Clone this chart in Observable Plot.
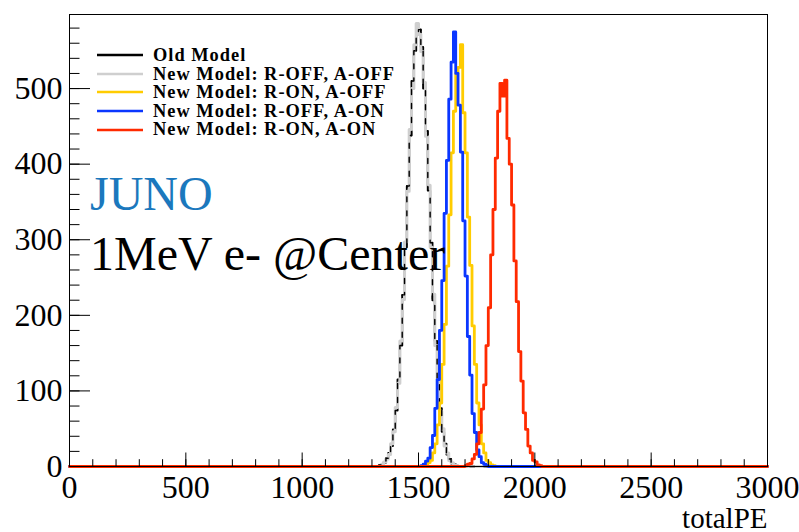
<!DOCTYPE html>
<html>
<head>
<meta charset="utf-8">
<script src="https://cdn.jsdelivr.net/npm/d3@7"></script>
<script src="https://cdn.jsdelivr.net/npm/@observablehq/plot@0.6"></script>
<style>
  html, body { margin: 0; padding: 0; background: #fff; }
  #wrap { position: relative; width: 799px; height: 532px; font-family: "Liberation Serif", "DejaVu Serif", serif; }
  #legend { position: absolute; left: 97px; top: 46px; font-weight: bold; font-size: 18.4px; letter-spacing: 1px; color: #000; }
  .row { display: flex; align-items: center; height: 18.6px; line-height: 18.6px; white-space: nowrap; }
  .row svg { margin-right: 10px; }
  .ann { position: absolute; font-size: 48px; white-space: nowrap; line-height: 1; }
</style>
</head>
<body>
<div id="wrap">
  <div id="chart"></div>
  <div id="legend"></div>
  <div class="ann" id="juno" style="left:90px; top:170px; color:#1b78bd;"></div>
  <div class="ann" id="sub" style="left:90px; top:230px; color:#000;"></div>
</div>
<script>
// ---- data (counts per 10-PE bin) ----
const seriesNames = ["Old Model", "New Model: R-OFF, A-OFF", "New Model: R-ON, A-OFF", "New Model: R-OFF, A-ON", "New Model: R-ON, A-ON"];
const seriesColors = ["#000000", "#cfcfcf", "#ffcc00", "#0a36ff", "#ff2a00"];
const binWidth = 10;

const oldStart = 1330;
const oldCounts = [2,2,5,11,18,27,49,74,115,160,227,290,371,438,510,550,572,578,555,500,444,365,296,220,166,110,77,46,30,16,10,4,3,1];

const offOffStart = 1330;
const offOffCounts = [1,3,6,10,16,30,46,78,110,166,221,297,364,446,500,558,586,572,549,508,437,372,290,228,160,116,73,50,27,18,8,5,2,1];

const onOffStart = 1520;
const onOffCounts = [1,2,5,8,18,30,55,84,135,188,265,333,415,470,520,528,558,468,415,330,266,186,135,84,55,30,18,8,5,2,1];

const offOnStart = 1510;
const offOnCounts = [1,3,7,11,25,41,77,115,180,246,335,405,486,535,575,520,478,416,325,252,172,121,70,45,22,13,5,3,1];

const onOnStart = 1700;
const onOnCounts = [1,3,4,10,16,30,45,76,108,160,210,280,340,408,470,507,490,511,434,400,346,272,218,152,113,71,49,27,18,8,6,2,1];

const xMajor = [0, 500, 1000, 1500, 2000, 2500, 3000];
const xMinor = d3.range(0, 3001, 100);
const yMajor = [0, 100, 200, 300, 400, 500];
const yMinor = d3.range(0, 598, 20);
const xLabel = "totalPE";
const junoText = "JUNO";
const subText = "1MeV e- @Center";

// ---- build step tables ----
function hist(name, start, counts) {
  const rows = [{series: name, x: 0, y: 0}];
  counts.forEach((c, i) => rows.push({series: name, x: start + i * binWidth, y: c}));
  rows.push({series: name, x: start + counts.length * binWidth, y: 0});
  rows.push({series: name, x: 3000, y: 0});
  return rows;
}
const hOld = hist(seriesNames[0], oldStart, oldCounts);
const hOffOff = hist(seriesNames[1], offOffStart, offOffCounts);
const hOnOff = hist(seriesNames[2], onOffStart, onOffCounts);
const hOffOn = hist(seriesNames[3], offOnStart, offOnCounts);
const hOnOn = hist(seriesNames[4], onOnStart, onOnCounts);

const W = 799, H = 532, mL = 69, mR = 32, mT = 14, mB = 66;
const plotH = H - mT - mB, plotW = W - mL - mR;

const chart = Plot.plot({
  width: W, height: H,
  marginLeft: mL, marginRight: mR, marginTop: mT, marginBottom: mB,
  style: {fontFamily: "'Liberation Serif', serif", fontSize: "32px", color: "#000", background: "#fff", overflow: "visible"},
  x: {domain: [0, 3000]},
  y: {domain: [0, 598]},
  marks: [
    Plot.line(hOld, {x: "x", y: "y", curve: "step-after", stroke: seriesColors[0], strokeWidth: 2}),
    Plot.line(hOffOff, {x: "x", y: "y", curve: "step-after", stroke: seriesColors[1], strokeWidth: 3}),
    Plot.line(hOld, {x: "x", y: "y", curve: "step-after", stroke: seriesColors[0], strokeWidth: 1.4, strokeDasharray: "5,9"}),
    Plot.line(hOnOff, {x: "x", y: "y", curve: "step-after", stroke: seriesColors[2], strokeWidth: 2.8}),
    Plot.line(hOffOn, {x: "x", y: "y", curve: "step-after", stroke: seriesColors[3], strokeWidth: 2.8}),
    Plot.line(hOnOn, {x: "x", y: "y", curve: "step-after", stroke: seriesColors[4], strokeWidth: 2.8}),
    Plot.frame({stroke: "#000", strokeWidth: 1}),
    Plot.tickX(xMinor, {x: d => d, insetTop: plotH - 6.8, stroke: "#000"}),
    Plot.tickX(xMajor, {x: d => d, insetTop: plotH - 13.5, stroke: "#000"}),
    Plot.tickY(yMinor, {y: d => d, insetRight: plotW - 10.5, stroke: "#000"}),
    Plot.tickY(yMajor, {y: d => d, insetRight: plotW - 21, stroke: "#000"}),
    Plot.axisX({ticks: xMajor, tickSize: 0, tickPadding: 9, label: null, tickFormat: d => String(d)}),
    Plot.axisY({ticks: yMajor, tickSize: 0, tickPadding: 7, label: null, tickFormat: d => String(d)}),
    Plot.text([xLabel], {text: d => d, frameAnchor: "bottom-right", dy: 61, textAnchor: "end", lineAnchor: "bottom", fontSize: 29})
  ]
});
document.getElementById("chart").appendChild(chart);

// ---- legend ----
const legend = document.getElementById("legend");
seriesNames.forEach((name, i) => {
  const row = document.createElement("div");
  row.className = "row";
  row.innerHTML = `<svg width="46" height="6"><line x1="0" y1="3" x2="46" y2="3" stroke="${seriesColors[i]}" stroke-width="2.5"/></svg><span>${name}</span>`;
  legend.appendChild(row);
});
document.getElementById("juno").textContent = junoText;
document.getElementById("sub").textContent = subText;
</script>
</body>
</html>
